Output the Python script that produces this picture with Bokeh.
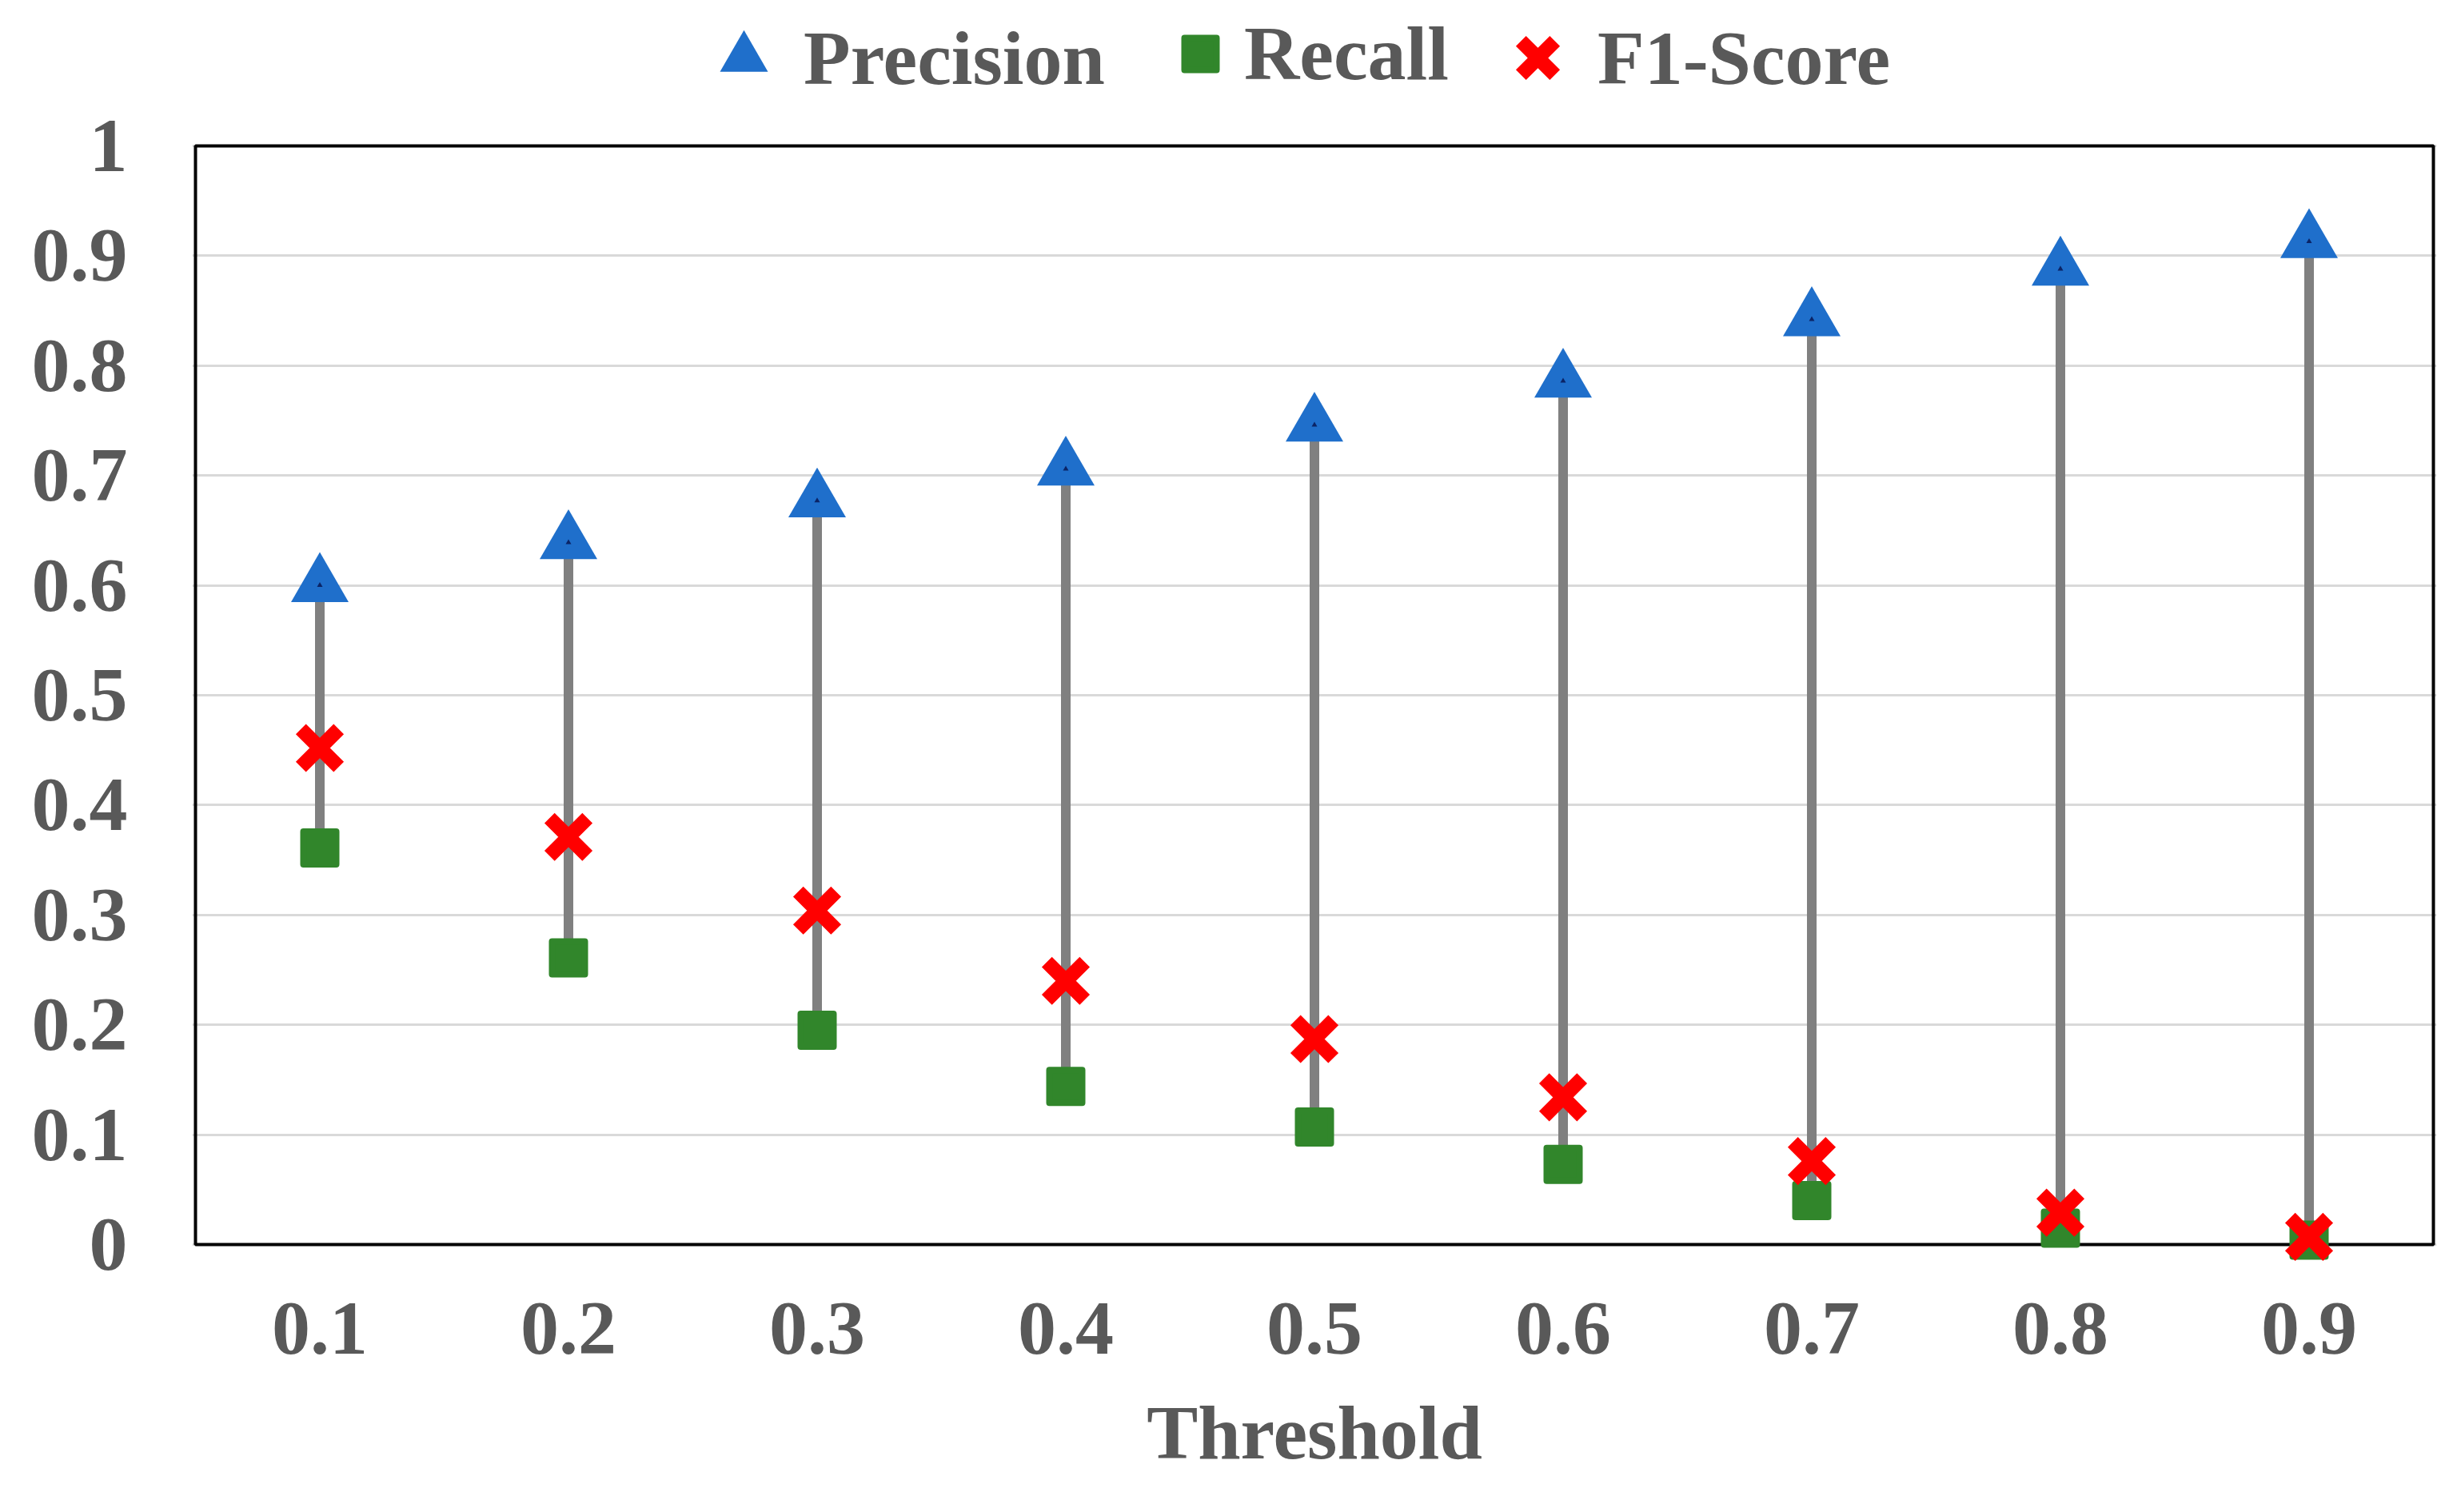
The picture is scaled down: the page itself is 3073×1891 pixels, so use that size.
from bokeh.plotting import figure
from bokeh.models import (ColumnDataSource, FactorRange, Range1d, FixedTicker,
                          Legend, LegendItem, BoxAnnotation)
from bokeh.embed import file_html
from bokeh.resources import INLINE

# ---- data ----
thresholds = ["0.1", "0.2", "0.3", "0.4", "0.5", "0.6", "0.7", "0.8", "0.9"]
precision = [0.600, 0.639, 0.677, 0.706, 0.746, 0.786, 0.842, 0.888, 0.913]
recall = [0.361, 0.261, 0.195, 0.144, 0.107, 0.073, 0.040, 0.015, 0.004]
f1_score = [0.452, 0.371, 0.304, 0.240, 0.187, 0.134, 0.076, 0.029, 0.007]
y_ticks = [0.0, 0.1, 0.2, 0.3, 0.4, 0.5, 0.6, 0.7, 0.8, 0.9, 1.0]
y_tick_labels = ["0", "0.1", "0.2", "0.3", "0.4", "0.5", "0.6", "0.7", "0.8", "0.9", "1"]
series_names = ["Precision", "Recall", "F1-Score"]
x_title = "Threshold"

FONT = "Liberation Serif"
TXT = "#595959"
FS = "96px"
BLUE, GREEN, RED, STEM = "#1F6FCB", "#31862B", "#FF0000", "#808080"

# ---- layout (pixels) ----
W, H = 3057, 1885
FRAME_L, FRAME_R, FRAME_T, FRAME_B = 240, 3047, 8, 1590   # drawing frame
BOX_T, BOX_B = 182, 1556                                  # visible plot box (y=1 / y=0)
PX_PER_UNIT = BOX_B - BOX_T
PX_PER_FACTOR = (FRAME_R - FRAME_L - 8) / len(thresholds)

y_lo = -(FRAME_B - BOX_B) / PX_PER_UNIT
y_hi = 1 + (BOX_T - FRAME_T) / PX_PER_UNIT

src = ColumnDataSource(dict(t=thresholds, p=precision, r=recall, f=f1_score))

p = figure(width=W, height=H, output_backend="svg", toolbar_location=None, tools="",
           x_range=FactorRange(factors=thresholds, range_padding=4 / PX_PER_FACTOR,
                               range_padding_units="absolute"),
           y_range=Range1d(y_lo, y_hi),
           min_border_left=FRAME_L, min_border_right=W - FRAME_R,
           min_border_top=FRAME_T, min_border_bottom=H - FRAME_B)
p.background_fill_color = "white"
p.border_fill_color = "white"
p.outline_line_color = None

p.xgrid.grid_line_color = None
p.ygrid.grid_line_color = "#d9d9d9"
p.ygrid.grid_line_width = 3
p.yaxis.ticker = FixedTicker(ticks=y_ticks)
p.yaxis.major_label_overrides = {v: s for v, s in zip(y_ticks, y_tick_labels)}

for ax in (p.xaxis, p.yaxis):
    ax.axis_line_color = None
    ax.major_tick_line_color = None
    ax.minor_tick_line_color = None
    ax.major_label_text_font = FONT
    ax.major_label_text_font_size = FS
    ax.major_label_text_font_style = "bold"
    ax.major_label_text_color = TXT
p.yaxis.major_label_standoff = 75
p.xaxis.major_label_standoff = 33

p.xaxis.axis_label = x_title
p.xaxis.axis_label_standoff = 42
p.xaxis.axis_label_text_font = FONT
p.xaxis.axis_label_text_font_size = FS
p.xaxis.axis_label_text_font_style = "bold"
p.xaxis.axis_label_text_color = TXT

# plot box (0..1 area)
p.add_layout(BoxAnnotation(left=0, right=len(thresholds), bottom=0, top=1,
                           fill_alpha=0, line_color="black", line_alpha=1.0,
                           line_width=4, level="underlay"))

# stems (high-low lines)
p.segment(x0="t", y0="r", x1="t", y1="p", source=src, line_color=STEM, line_width=12)

tri = p.scatter(x="t", y="p", source=src, marker="triangle", size=72,
                fill_color=BLUE, line_color=None)
p.scatter(x="t", y="p", source=src, marker="triangle", size=7,
          fill_color="#0B2466", line_color=None)
sq = p.scatter(x="t", y="r", source=src, marker="square", size=41, fill_color=GREEN,
               line_color=GREEN, line_width=8, line_join="round")
xx = p.scatter(x="t", y="f", source=src, marker="x", size=67,
               line_color=RED, line_width=18)

LEG_CY = 72   # vertical centre of the legend row (page px)

def add_legend(label, rend, gw, page_left, standoff):
    lg = Legend(items=[LegendItem(label=label, renderers=[rend])],
                location=(page_left - FRAME_L, FRAME_B - LEG_CY - gw / 2),
                orientation="horizontal",
                glyph_width=gw, glyph_height=gw, label_standoff=standoff,
                padding=0, margin=0, border_line_color=None,
                background_fill_alpha=0,
                label_text_font=FONT, label_text_font_size=FS,
                label_text_font_style="bold", label_text_color=TXT)
    p.add_layout(lg)

add_legend(series_names[0], tri, 150, 855, 0)
add_legend(series_names[1], sq, 100, 1451, 5)
add_legend(series_names[2], xx, 150, 1848, 0)

open("out.html", "w").write(file_html(p, INLINE))
